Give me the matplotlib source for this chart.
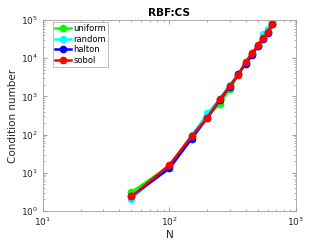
import numpy as np
import matplotlib
matplotlib.use("Agg")
import matplotlib.pyplot as plt

N = [50, 100, 150, 200, 250, 300, 350, 400, 450, 500, 550, 600, 650]

uniform = [3.1, 15, 90, 300, 650, 1550, 3800, 7500, 13000, 21000, 33000, 50000, 80000]
random_ = [2.1, 15, 95, 360, 850, 2000, 3800, 7600, 13000, 21000, 42000, 57000, 80000]
halton = [2.4, 13, 78, 280, 800, 1800, 3800, 7000, 12000, 21000, 32000, 46000, 78000]
sobol = [2.4, 16, 92, 280, 850, 1850, 3700, 8000, 13500, 22000, 33000, 48000, 80000]

series = [("uniform", uniform, (0, 1, 0)),
          ("random", random_, (0, 1, 1)),
          ("halton", halton, (0, 0, 1)),
          ("sobol", sobol, (1, 0, 0))]

fig = plt.figure(figsize=(3.27, 2.45), dpi=100)
ax = fig.add_axes([0.131, 0.139, 0.774, 0.779])

for name, vals, col in series:
    ax.plot(N, vals, '-o', color=col, lw=1.8, ms=4.5, mfc=col, mec=col, label=name)

ax.set_xscale('log')
ax.set_yscale('log')
ax.set_xlim(10, 1000)
ax.set_ylim(1, 1e5)

axcol = '#262626'
for s in ax.spines.values():
    s.set_color('#a0a0a0')
    s.set_linewidth(0.6)
ax.tick_params(which='both', direction='in', top=True, right=True,
               labelsize=6.5, colors='#a0a0a0', labelcolor=axcol)
ax.tick_params(which='major', length=3)
ax.tick_params(which='minor', length=1.6)

ax.set_xlabel('N', fontsize=7.5, color=axcol, labelpad=1)
ax.set_ylabel('Condition number', fontsize=7.5, color=axcol, labelpad=2)
ax.set_title('RBF:CS', fontsize=7.5, fontweight='bold', pad=3)

leg = ax.legend(loc='upper left', bbox_to_anchor=(0.04, 0.99), fontsize=6,
                frameon=True, fancybox=False, handlelength=1.9,
                handletextpad=0.3, borderpad=0.25, labelspacing=0.2,
                borderaxespad=0)
leg.get_frame().set_edgecolor('#a0a0a0')
leg.get_frame().set_linewidth(0.6)

fig.savefig('out.png', dpi=100)
